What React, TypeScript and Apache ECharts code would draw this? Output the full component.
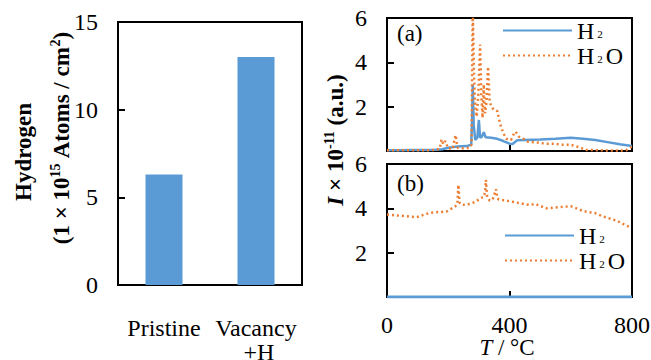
import React, { useEffect, useRef } from 'react';
import * as echarts from 'echarts';

const FONT = "'Liberation Serif', 'Times New Roman', serif";
const BLUE = '#5B9BD5';
const ORANGE = '#ED7D31';

// Left bar chart
const barCategories = ['Pristine', 'Vacancy\n +H'];
const barValues = [6.3, 13.0];

// Panel (a): H2
const h2aT = [0, 40, 80, 120, 160, 180, 200, 230, 260, 275, 278, 280, 283, 288, 295, 300, 304, 310, 316, 322, 340, 360, 380, 400, 410, 425, 450, 500, 550, 600, 640, 680, 720, 760, 800];
const h2aV = [0.03, 0.03, 0.04, 0.04, 0.06, 0.08, 0.15, 0.2, 0.22, 0.28, 1.5, 3.0, 1.2, 0.5, 0.6, 1.4, 0.6, 0.65, 0.85, 0.62, 0.6, 0.55, 0.45, 0.33, 0.32, 0.48, 0.5, 0.52, 0.55, 0.6, 0.55, 0.5, 0.4, 0.3, 0.23];

// Panel (a): H2O
const h2oaT = [0, 40, 80, 120, 160, 172, 178, 184, 190, 200, 215, 220, 224, 230, 250, 270, 276, 280, 284, 288, 293, 298, 304, 308, 312, 316, 320, 325, 330, 335, 340, 350, 360, 370, 380, 390, 405, 415, 420, 430, 440, 460, 490, 520, 550, 575, 600, 620, 650, 700, 750, 780, 800];
const h2oaV = [0.03, 0.03, 0.03, 0.03, 0.05, 0.1, 0.52, 0.3, 0.45, 0.12, 0.1, 0.5, 0.72, 0.15, 0.12, 0.15, 0.3, 6.5, 3.5, 2.0, 1.55, 2.5, 4.8, 2.5, 1.5, 3.0, 1.7, 2.2, 3.8, 2.3, 2.0, 1.85, 1.8, 1.2, 0.8, 0.55, 0.5, 0.8, 0.87, 0.65, 0.6, 0.42, 0.38, 0.33, 0.32, 0.28, 0.28, 0.2, 0.05, 0.03, 0.02, 0.03, 0.2];

// Panel (b): H2
const h2bT = [0, 800];
const h2bV = [0, 0];

// Panel (b): H2O
const h2obT = [0, 30, 60, 97, 140, 195, 222, 230, 233, 237, 245, 271, 290, 304, 315, 320, 323, 327, 335, 345, 350, 356, 360, 365, 389, 423, 466, 483, 521, 560, 586, 600, 640, 680, 706, 749, 798];
const h2obV = [3.72, 3.68, 3.65, 3.6, 3.8, 3.86, 4.08, 4.2, 5.06, 4.25, 4.15, 4.2, 4.3, 4.46, 4.5, 4.7, 5.28, 4.5, 4.35, 4.4, 4.6, 4.86, 4.45, 4.4, 4.35, 4.26, 4.15, 4.2, 4.0, 4.05, 4.08, 4.1, 3.88, 3.78, 3.63, 3.45, 3.11];

const zip = (t: number[], v: number[]) => t.map((x, i) => [x, v[i]]);

const legendNames = ['H2', 'H2O'];

export default function App() {
  const ref = useRef<HTMLDivElement>(null);
  useEffect(() => {
    if (!ref.current) return;
    const chart = echarts.init(ref.current, undefined, { renderer: 'svg' });
    const tRich = {
      t: { fontFamily: FONT, fontSize: 24, color: '#000', lineHeight: 24 },
      c: { fontFamily: FONT, fontSize: 24, color: '#000', lineHeight: 24 },
    };
    const gridBase = { show: true, borderColor: '#000', borderWidth: 2, backgroundColor: 'transparent', outerBoundsMode: 'none', containLabel: false };
    const yValue = (gi: number, max: number, interval: number, hideZero: boolean) => ({
      type: 'value', gridIndex: gi, min: 0, max, interval,
      axisLine: { show: false },
      axisTick: { show: true, inside: true, length: 7, lineStyle: { color: '#000', width: 2 } },
      splitLine: { show: false },
      axisLabel: {
        color: '#000', fontFamily: FONT, fontSize: 24, margin: 20, rich: tRich,
        formatter: (v: number) => (hideZero && v === 0 ? '' : `{t|${v}}`),
      },
    });
    const xValue = (gi: number, showLabel: boolean) => ({
      type: 'value', gridIndex: gi, min: 0, max: 800, interval: 400,
      axisLine: { show: false },
      axisTick: { show: true, inside: true, length: 6, lineStyle: { color: '#000', width: 2 } },
      splitLine: { show: false },
      axisLabel: {
        show: showLabel, color: '#000', fontFamily: FONT, fontSize: 24, margin: 16, rich: tRich,
        formatter: (v: number) => `{c|${v}}`,
      },
    });
    const legendRich = {
      n: { fontFamily: FONT, fontSize: 24, color: '#000', lineHeight: 25 },
      s: { fontFamily: FONT, fontSize: 11, color: '#000', verticalAlign: 'bottom', padding: [0, 3, 4, 3], lineHeight: 25 },
    };
    const legendBase = {
      orient: 'vertical', data: legendNames, itemWidth: 69, itemHeight: 14, itemGap: 0, padding: 0,
      selectedMode: false,
      itemStyle: { opacity: 0, color: 'transparent', borderWidth: 0 },
      textStyle: { fontFamily: FONT, fontSize: 24, color: '#000', lineHeight: 25, rich: legendRich },
      formatter: (name: string) => (name === 'H2' ? '{n|H}{s|2}' : '{n|H}{s|2}{n|O}'),
    };
    const h2Line = { color: BLUE, width: 2.5 };
    const h2oLine = { color: ORANGE, width: 2.5, type: [2, 3] };
    const subRich = {
      b: { fontFamily: FONT, fontSize: 23, fontWeight: 'bold', color: '#000', lineHeight: 26 },
      bi: { fontFamily: FONT, fontSize: 23, fontWeight: 'bold', fontStyle: 'italic', color: '#000', lineHeight: 26 },
      sp: { fontFamily: FONT, fontSize: 14, fontWeight: 'bold', color: '#000', verticalAlign: 'top', lineHeight: 26 },
    };
    chart.setOption({
      animation: false,
      grid: [
        { ...gridBase, left: 118, top: 22, width: 184, height: 263 },
        { ...gridBase, left: 387, top: 18, width: 245, height: 133 },
        { ...gridBase, left: 387, top: 164, width: 245, height: 133 },
      ],
      xAxis: [
        {
          type: 'category', gridIndex: 0, data: barCategories,
          axisLine: { show: false }, axisTick: { show: false },
          axisLabel: {
            color: '#000', fontFamily: FONT, fontSize: 24, lineHeight: 24, margin: 31, interval: 0, rich: tRich,
            formatter: (v: string) => v.split('\n').map((s) => `{c|${s}}`).join('\n'),
          },
        },
        xValue(1, false),
        xValue(2, true),
      ],
      yAxis: [
        yValue(0, 15, 5, false),
        yValue(1, 6, 2, true),
        yValue(2, 6, 2, true),
      ],
      legend: [
        { ...legendBase, left: 502, top: 18 },
        { ...legendBase, left: 504, top: 223 },
      ],
      series: [
        { type: 'bar', xAxisIndex: 0, yAxisIndex: 0, data: barValues, barWidth: 37, itemStyle: { color: BLUE } },
        { name: 'H2', type: 'line', xAxisIndex: 1, yAxisIndex: 1, data: zip(h2aT, h2aV), symbol: 'none', lineStyle: h2Line, itemStyle: { color: BLUE } },
        { name: 'H2O', type: 'line', xAxisIndex: 1, yAxisIndex: 1, data: zip(h2oaT, h2oaV), symbol: 'none', lineStyle: h2oLine, itemStyle: { color: ORANGE } },
        { name: 'H2', type: 'line', xAxisIndex: 2, yAxisIndex: 2, data: zip(h2bT, h2bV), symbol: 'none', lineStyle: { ...h2Line, width: 3 }, itemStyle: { color: BLUE }, z: 5 },
        { name: 'H2O', type: 'line', xAxisIndex: 2, yAxisIndex: 2, data: zip(h2obT, h2obV), symbol: 'none', lineStyle: h2oLine, itemStyle: { color: ORANGE } },
      ],
      graphic: [
        {
          type: 'text', x: 23, y: 152, rotation: Math.PI / 2,
          style: { text: 'Hydrogen', fontFamily: FONT, fontSize: 23, fontWeight: 'bold', fill: '#000', align: 'center', verticalAlign: 'middle' },
        },
        {
          type: 'text', x: 61, y: 138, rotation: Math.PI / 2,
          style: { text: '{b|(1 × 10}{sp|15}{b| Atoms / cm}{sp|2}{b|)}', rich: subRich, align: 'center', verticalAlign: 'middle' },
        },
        {
          type: 'text', x: 335, y: 140, rotation: Math.PI / 2,
          style: { text: '{bi|I}{b| × 10}{sp|-11}{b| (a.u.)}', rich: subRich, align: 'center', verticalAlign: 'middle' },
        },
        {
          type: 'text', x: 507, y: 347,
          style: {
            text: '{i|T}{n| / °C}', align: 'center', verticalAlign: 'middle',
            rich: {
              i: { fontFamily: FONT, fontSize: 23, fontStyle: 'italic', fill: '#000', lineHeight: 20 },
              n: { fontFamily: FONT, fontSize: 23, fill: '#000', lineHeight: 20 },
            },
          },
        },
        {
          type: 'text', x: 397, y: 33,
          style: { text: '(a)', fontFamily: FONT, fontSize: 23, fill: '#000', align: 'left', verticalAlign: 'middle' },
        },
        {
          type: 'text', x: 397, y: 183,
          style: { text: '(b)', fontFamily: FONT, fontSize: 23, fill: '#000', align: 'left', verticalAlign: 'middle' },
        },
      ],
    });
    return () => chart.dispose();
  }, []);
  return <div ref={ref} style={{ width: 651, height: 360, position: 'absolute', left: 0, top: 0 }} />;
}
